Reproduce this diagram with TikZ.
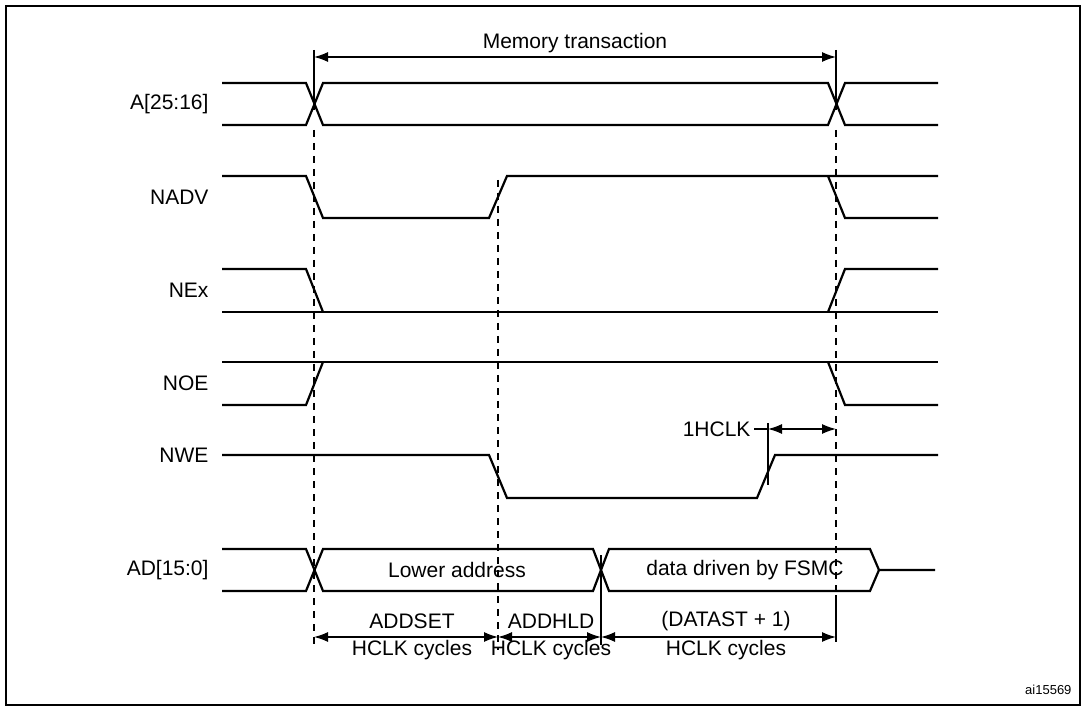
\documentclass[tikz,border=0pt]{standalone}
\usepackage{fontspec}
\setmainfont{Liberation Sans}
\usetikzlibrary{arrows.meta}
\begin{document}
\begin{tikzpicture}[x=1pt,y=-1pt,
    sig/.style={line width=2.2pt},
    guide/.style={line width=1.2pt,dash pattern=on 7pt off 6pt},
    tick/.style={line width=1.3pt},
    dim/.style={line width=1.3pt,{Latex[length=14pt,width=10pt]}-{Latex[length=14pt,width=10pt]}},
    lbl/.style={font=\fontsize{21}{24}\selectfont,anchor=east},
    txt/.style={font=\fontsize{21}{24}\selectfont}]
  \useasboundingbox (0,0) rectangle (1087,708);
  \draw[line width=2pt] (6,6) rectangle (1080,705);

  % guides
  \draw[guide] (314,130) -- (314,650);
  \draw[guide] (498,180) -- (498,650);
  \draw[guide] (836,130) -- (836,640);

  % labels
  \node[lbl] (la) at (212,104) {A[25:16]};
  \node[lbl] (lnadv) at (212,197) {NADV};
  \node[lbl] (lnex) at (212,290) {NEx};
  \node[lbl] (lnoe) at (212,383) {NOE};
  \node[lbl] (lnwe) at (212,455) {NWE};
  \node[lbl] (lad) at (212,570) {AD[15:0]};

  % A[25:16]
  \draw[sig] (222,83) -- (306,83) -- (323,125) -- (828,125) -- (845,83) -- (938,83);
  \draw[sig] (222,125) -- (306,125) -- (323,83) -- (828,83) -- (845,125) -- (938,125);
  % NADV
  \draw[sig] (222,176) -- (306,176) -- (323,218) -- (489,218) -- (507,176) -- (938,176);
  \draw[sig] (828,176) -- (845,218) -- (938,218);
  % NEx
  \draw[sig] (222,269) -- (306,269) -- (323,312);
  \draw[sig] (222,312) -- (938,312);
  \draw[sig] (828,312) -- (845,269) -- (938,269);
  % NOE
  \draw[sig] (222,405) -- (306,405) -- (323,362);
  \draw[sig] (222,362) -- (938,362);
  \draw[sig] (828,362) -- (845,405) -- (938,405);
  % NWE
  \draw[sig] (222,455) -- (489,455) -- (507,498) -- (757,498) -- (775,455) -- (938,455);
  % AD[15:0]
  \draw[sig] (222,549) -- (306,549) -- (323,591) -- (593,591) -- (609,549) -- (870,549) -- (879,570) -- (935,570);
  \draw[sig] (222,591) -- (306,591) -- (323,549) -- (593,549) -- (609,591) -- (870,591) -- (879,570);
  \node[txt] (lower) at (457,570) {Lower address};
  \node[txt] (data) at (745,570) {data driven by FSMC};

  % memory transaction
  \draw[tick] (314,50) -- (314,110);
  \draw[tick] (836,50) -- (836,110);
  \coordinate (m0) at (314,57);
  \coordinate (m1) at (836,57);
  \draw[dim] (m0) -- node[txt,above=0pt] {Memory transaction} (m1);

  % 1HCLK
  \draw[tick] (768,423) -- (768,485);
  \node[txt,anchor=east] (hclk) at (754,429) {1HCLK};
  \coordinate (h0) at (768,429);
  \coordinate (h1) at (836,429);
  \draw[tick] (hclk.east) -- (h0);
  \draw[dim] (h0) -- (h1);

  % cycle dimensions
  \draw[tick] (601,555) -- (601,645);
  \draw[tick] (836,595) -- (836,642);
  \coordinate (d0) at (314,637);
  \coordinate (d1) at (498,637);
  \coordinate (d2) at (601,637);
  \coordinate (d3) at (836,637);
  \draw[dim] (d0) -- (d1);
  \draw[dim] (d1) -- (d2);
  \draw[dim] (d2) -- (d3);
  \node[txt] (addset) at (412,621) {ADDSET};
  \node[txt] (addsetc) at (412,650) {HCLK cycles};
  \node[txt] (addhld) at (551,621) {ADDHLD};
  \node[txt] (addhldc) at (551,650) {HCLK cycles};
  \node[txt] (datast) at (726,621) {(DATAST + 1)};
  \node[txt] (datastc) at (726,650) {HCLK cycles};

  \node[font=\fontsize{13}{15}\selectfont,anchor=east] (ref) at (1075,690) {ai15569};
\end{tikzpicture}
\end{document}
